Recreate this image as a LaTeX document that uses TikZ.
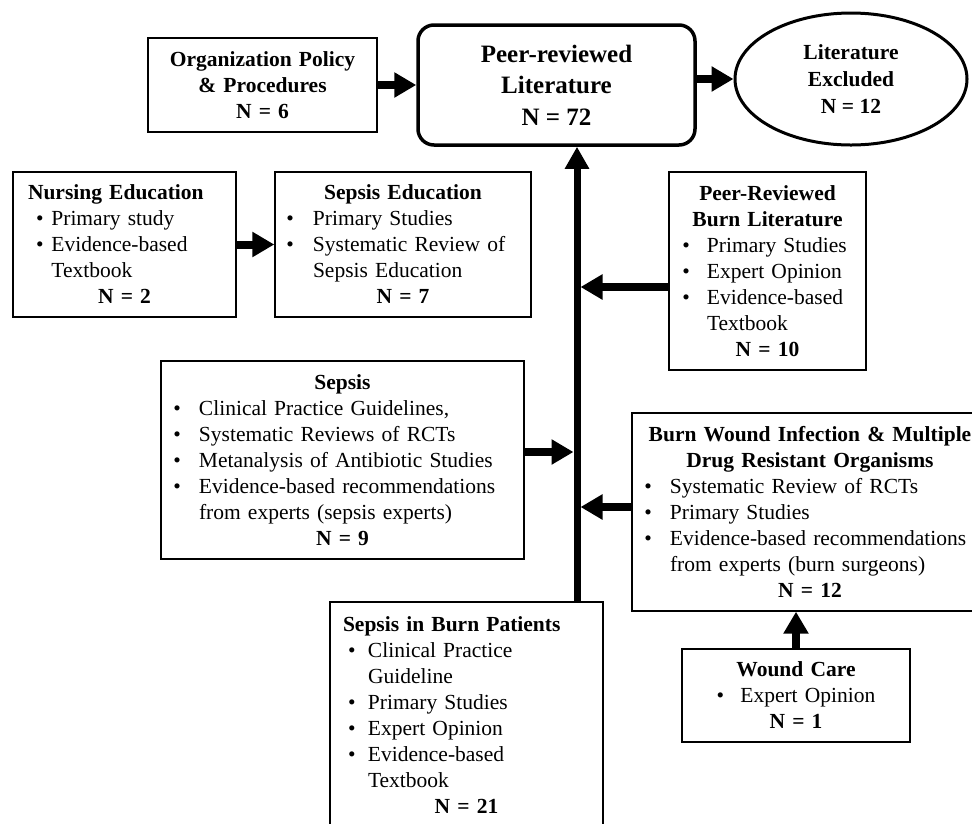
\documentclass[tikz,border=0pt]{standalone}
\usepackage{fontspec}
\setmainfont{Liberation Serif}
\usetikzlibrary{arrows.meta,shapes.geometric}

% bullet offset and hanging indent for list lines inside the boxes
\newlength\bo
\newlength\bi
\newcommand\bitem[1]{\par\noindent\hangindent=\bi\hangafter=1\hbox to\bi{\hspace{\bo}\textbullet\hfil}#1\par}
\newcommand\ctr[1]{{\centering\noindent #1\par}}
\newcommand\hd[1]{\ctr{\bfseries #1}}
\newcommand\lft[1]{{\noindent\bfseries #1\par}}

\tikzset{
  box/.style={draw, rectangle, line width=1.4pt, inner xsep=10pt, inner ysep=0pt,
              align=left, font=\fontsize{21.5}{26}\selectfont, bul={2.3}{28}},
  bul/.style 2 args={execute at begin node={\setlength\bo{#1pt}\setlength\bi{#2pt}}},
  conn/.style={line width=8pt, -{Triangle[width=24pt,length=22pt]}},
  trunk/.style={line width=7pt, -{Triangle[width=23pt,length=22pt]}},
}

\begin{document}
\begin{tikzpicture}[x=1pt,y=-1pt]
\clip (0,0) rectangle (972,823);

% top row
\node[box, line width=2.4pt, minimum width=229pt, minimum height=94pt, text width=209pt] (org) at (262.5,85)
  {\hd{Organization Policy}\hd{\& Procedures}\hd{N = 6}};
\node[draw, rectangle, rounded corners=16pt, line width=3.5pt, minimum width=277pt, minimum height=120pt,
      align=center, font=\fontsize{25}{31.5}\selectfont\bfseries] (peer) at (556.5,85)
  {Peer-reviewed\\Literature\\N = 72};
\node[draw, ellipse, line width=3pt, minimum width=232pt, minimum height=132pt, inner sep=0pt,
      align=center, font=\fontsize{21.5}{27}\selectfont\bfseries] (excl) at (851,79)
  {Literature\\Excluded\\N = 12};

% second row
\node[box, minimum width=223pt, minimum height=145pt, inner xsep=15pt, text width=193pt, bul={8}{23.4}] (nurs) at (124.5,244.5)
  {\lft{Nursing Education}\bitem{Primary study}\bitem{Evidence-based\newline Textbook}\hd{N = 2}};
\node[box, minimum width=256pt, minimum height=145pt, text width=236pt, bul={1.3}{28}] (sed) at (403,244.5)
  {\hd{Sepsis Education}\bitem{Primary Studies}\bitem{Systematic Review of\newline Sepsis Education}\hd{N = 7}};
\node[box, minimum width=197pt, minimum height=198pt, text width=177pt, bul={3.3}{28}] (pbl) at (767.5,271)
  {\hd{Peer-Reviewed}\hd{Burn Literature}\bitem{Primary Studies}\bitem{Expert Opinion}\bitem{Evidence-based\newline Textbook}\hd{N = 10}};

% lower boxes
\node[box, minimum width=363pt, minimum height=198pt, text width=343pt] (sep) at (342.5,460)
  {\hd{Sepsis}\bitem{Clinical Practice Guidelines,}\bitem{Systematic Reviews of RCTs}\bitem{Metanalysis of Antibiotic Studies}\bitem{Evidence-based recommendations\newline from experts (sepsis experts)}\hd{N = 9}};
\node[box, minimum width=356pt, minimum height=198pt, text width=336pt] (bwi) at (810,512)
  {\hd{Burn Wound Infection \& Multiple}\hd{Drug Resistant Organisms}\bitem{Systematic Review of RCTs}\bitem{Primary Studies}\bitem{Evidence-based recommendations\newline from experts (burn surgeons)}\hd{N = 12}};
\node[box, minimum width=273pt, minimum height=226pt, inner xsep=13pt, text width=247pt, bul={5}{25}] (sbp) at (466.5,715)
  {\lft{Sepsis in Burn Patients}\bitem{Clinical Practice\newline Guideline}\bitem{Primary Studies}\bitem{Expert Opinion}\bitem{Evidence-based\newline Textbook}\hd{N = 21}};
\node[box, minimum width=228pt, minimum height=93pt, text width=208pt] (wc) at (796,695.5)
  {\hd{Wound Care}\ctr{\hbox to 23.7pt{\textbullet\hfil}Expert Opinion}\hd{N = 1}};

% central trunk and joins
\coordinate (tx) at (577,0);
\coordinate (j1) at (580.5,287);
\coordinate (j2) at (573.5,452);
\coordinate (j3) at (580.5,507);
\draw[trunk] (sbp.north -| tx) -- (peer.south -| tx);

% connectors
\draw[conn] (org.east) -- (peer.west);
\draw[conn] (excl.west -| peer.east) -- (excl.west);
\draw[conn] (nurs.east) -- (sed.west);
\draw[conn] (pbl.west |- j1) -- (j1);
\draw[conn] (sep.east |- j2) -- (j2);
\draw[conn] (bwi.west |- j3) -- (j3);
\draw[conn] (wc.north) -- (wc.north |- bwi.south);
\end{tikzpicture}
\end{document}
